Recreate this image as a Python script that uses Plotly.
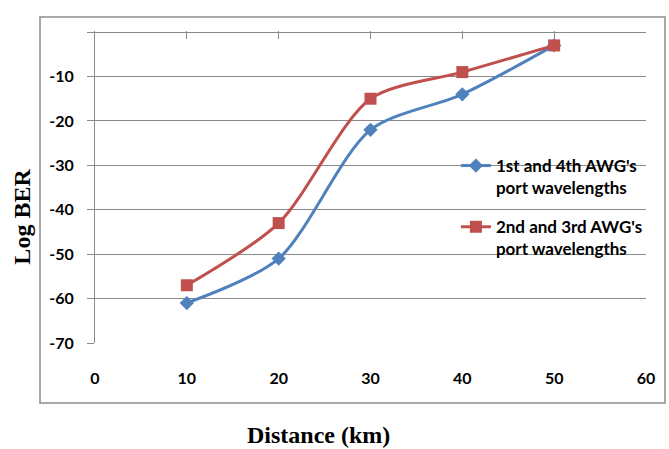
import plotly.graph_objects as go

# Distance in km and log BER values for both AWG port groups
distance_km = [10, 20, 30, 40, 50]
ber_ports_1_4 = [-61, -51, -22, -14, -3]
ber_ports_2_3 = [-57, -43, -15, -9, -3]

x_ticks = [0, 10, 20, 30, 40, 50, 60]
y_ticks = [-70, -60, -50, -40, -30, -20, -10, 0]
y_tick_text = [str(v) if v != 0 else "" for v in y_ticks]

name_1_4 = "1st and 4th AWG's<br>port wavelengths"
name_2_3 = "2nd and 3rd AWG's<br>port wavelengths"

BLUE = "#4F81BD"
RED = "#C0504D"
GRID = "#8a8a8a"
TICK_FONT = dict(family="Lato", size=16, color="black", weight="bold")

fig = go.Figure()
fig.add_trace(go.Scatter(
    x=distance_km, y=ber_ports_1_4, name=name_1_4, mode="lines+markers",
    legendgroup="g1",
    line=dict(color=BLUE, width=3, shape="spline", smoothing=0.8),
    marker=dict(symbol="diamond", size=11, color=BLUE),
))
fig.add_trace(go.Scatter(
    x=distance_km, y=ber_ports_2_3, name=name_2_3, mode="lines+markers",
    legendgroup="g2",
    line=dict(color=RED, width=3, shape="spline", smoothing=0.8),
    marker=dict(symbol="square", size=12, color=RED),
))

fig.update_layout(
    width=669, height=449,
    margin=dict(l=95, r=23, t=31, b=106),
    paper_bgcolor="white", plot_bgcolor="white",
    showlegend=True,
    legend=dict(
        x=0.655, y=0.625, xanchor="left", yanchor="top",
        bgcolor="rgba(0,0,0,0)", valign="top",
        font=dict(family="Lato", size=17, color="black", weight="bold"),
        tracegroupgap=14, itemwidth=30,
    ),
    xaxis=dict(
        range=[0, 60], tickvals=x_ticks, showgrid=False, zeroline=False,
        showline=False, ticks="", tickfont=TICK_FONT, ticklabelstandoff=24,
        fixedrange=True,
    ),
    xaxis2=dict(
        range=[0, 60], tickvals=x_ticks, overlaying="x", side="top",
        anchor="y", showgrid=False, zeroline=False, showline=False,
        ticks="inside", ticklen=8, tickcolor=GRID, tickwidth=1,
        showticklabels=False,
    ),
    yaxis=dict(
        range=[-70, 0.25], tickvals=y_ticks, ticktext=y_tick_text,
        showgrid=True, gridcolor=GRID, gridwidth=1, zeroline=False,
        showline=True, linecolor=GRID, linewidth=1,
        ticks="outside", ticklen=7, tickcolor=GRID, tickwidth=1,
        tickfont=TICK_FONT, ticklabelstandoff=10,
    ),
)

# Outer chart-area frame
fig.add_shape(type="rect", xref="paper", yref="paper",
              x0=-0.0998, x1=1.0345, y0=-0.1923, y1=1.0449,
              line=dict(color="#8c8c8c", width=1.5), layer="below")

# Axis titles
fig.add_annotation(text="Log BER", xref="paper", yref="paper",
                   x=-0.1325, y=0.405, textangle=-90, showarrow=False,
                   xanchor="center", yanchor="middle",
                   font=dict(family="Liberation Serif", size=24, color="black", weight="bold"))
fig.add_annotation(text="Distance (km)", xref="paper", yref="paper",
                   x=0.405, y=-0.295, showarrow=False,
                   xanchor="center", yanchor="middle",
                   font=dict(family="Liberation Serif", size=24, color="black", weight="bold"))

# Empty trace keeps the top tick axis drawn
fig.add_trace(go.Scatter(x=[], y=[], xaxis="x2", showlegend=False, hoverinfo="skip"))

fig.write_html("out.html")
